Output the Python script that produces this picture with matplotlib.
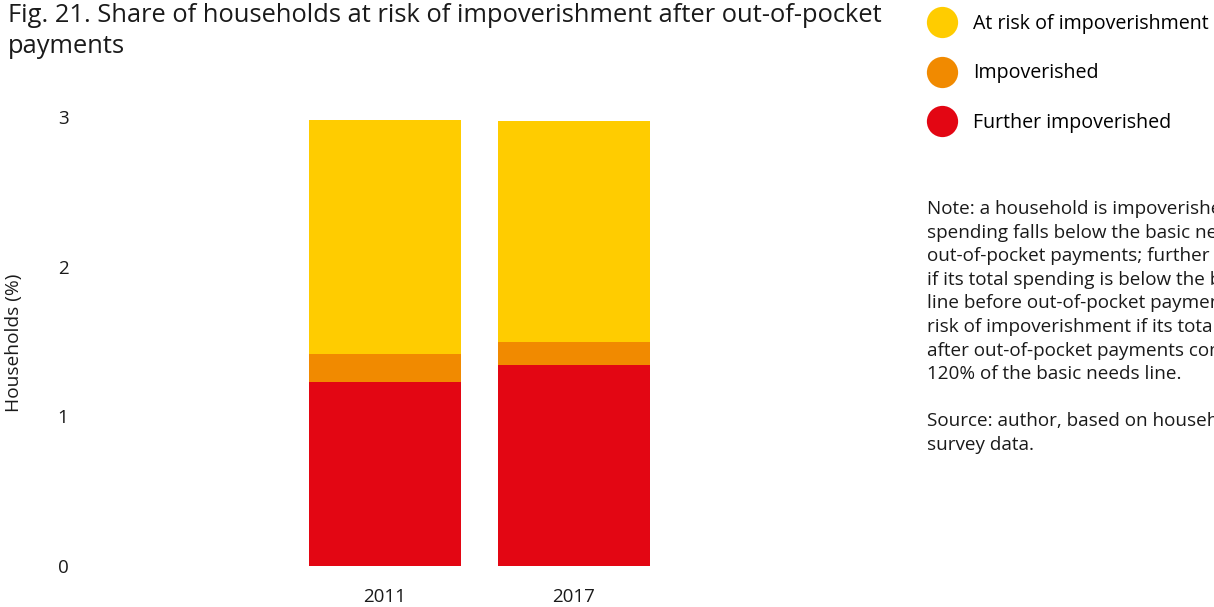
import matplotlib
matplotlib.use('Agg')
import matplotlib.pyplot as plt
from matplotlib.lines import Line2D

plt.rcParams['font.family'] = ['Open Sans', 'DejaVu Sans']

# data (percent of households)
years = ['2011', '2017']
further_impoverished = [1.23, 1.344]
impoverished = [0.187, 0.153]
at_risk = [1.563, 1.478]

series = ['At risk of impoverishment', 'Impoverished', 'Further impoverished']
colors = {'At risk of impoverishment': '#FFCC00',
          'Impoverished': '#F18A00',
          'Further impoverished': '#E30613'}

title = 'Fig. 21. Share of households at risk of impoverishment after out-of-pocket\npayments'
note = ('Note: a household is impoverished if its total\n'
        'spending falls below the basic needs line after\n'
        'out-of-pocket payments; further impoverished\n'
        'if its total spending is below the basic needs\n'
        'line before out-of-pocket payments; at\n'
        'risk of impoverishment if its total spending\n'
        'after out-of-pocket payments comes within\n'
        '120% of the basic needs line.\n'
        '\n'
        'Source: author, based on household budget\n'
        'survey data.')

fig = plt.figure(figsize=(12.14, 6.07), dpi=100)
W, H = 1214, 607
ax = fig.add_axes([85 / W, (H - 566) / H, (870 - 85) / W, (566 - 117) / H])

x = range(len(years))
width = 0.804
ax.bar(x, further_impoverished, width, color=colors['Further impoverished'])
ax.bar(x, impoverished, width, bottom=further_impoverished, color=colors['Impoverished'])
bottom2 = [a + b for a, b in zip(further_impoverished, impoverished)]
ax.bar(x, at_risk, width, bottom=bottom2, color=colors['At risk of impoverishment'])

ax.set_xlim(-1.587, 2.566)
ax.set_ylim(0, 3)
ax.set_yticks([0, 1, 2, 3])
ax.set_xticks(list(x))
ax.set_xticklabels(years)
for s in ax.spines.values():
    s.set_visible(False)
ax.tick_params(axis='y', length=0, pad=12, labelsize=13.5, colors='#1a1a1a')
ax.tick_params(axis='x', length=0, pad=16, labelsize=13.5, colors='#1a1a1a')

fig.text(14 / W, 1 - 343 / H, 'Households (%)', rotation=90, ha='center', va='center',
         fontsize=13.8, color='#1a1a1a')

fig.text(8 / W, 1 - 3 / H, title, ha='left', va='top', fontsize=18.4,
         color='#1a1a1a', linespacing=1.33)

handles = [Line2D([], [], linestyle='none', marker='o', markersize=22.5,
                  markerfacecolor=colors[s], markeredgecolor='none') for s in series]
fig.legend(handles, series, loc='upper left', bbox_to_anchor=(930 / W, 1 - 14 / H),
           frameon=False, fontsize=14.1, labelspacing=1.5, handlelength=1.2,
           handletextpad=1.0, borderaxespad=0, borderpad=0)

fig.text(927 / W, 1 - 200 / H, note, ha='left', va='top', fontsize=13.6,
         color='#1a1a1a', linespacing=1.40)

fig.savefig('out.png', dpi=100)
